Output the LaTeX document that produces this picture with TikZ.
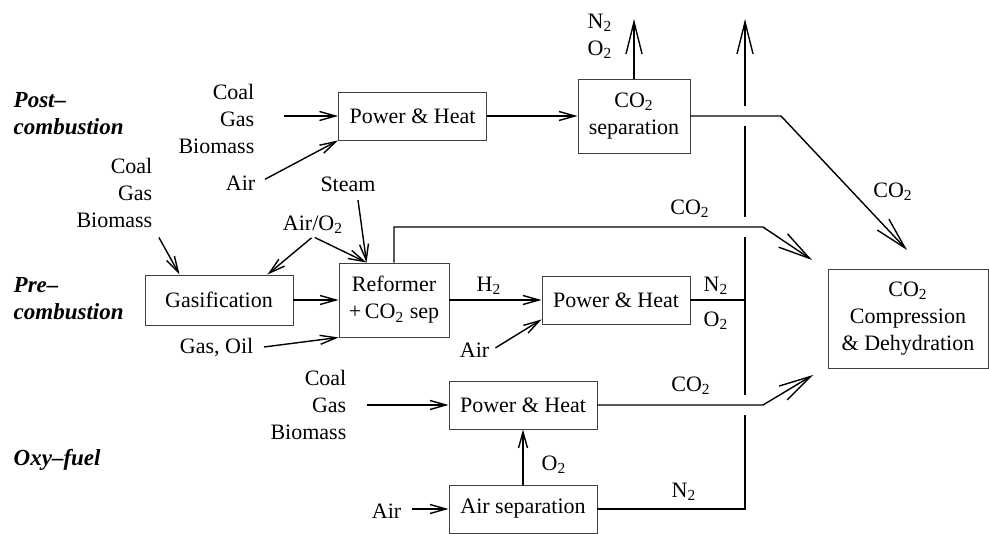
\documentclass[tikz,border=0pt]{standalone}
\usepackage{fontspec}
\setmainfont{Liberation Serif}
\usetikzlibrary{arrows.meta,calc}

\begin{document}
\begin{tikzpicture}[x=0.5pt,y=-0.5pt,line width=0.7pt,
    font=\fontsize{11}{13.5}\selectfont,
    box/.style={draw=black!75,line width=0.45pt,minimum width=74pt,minimum height=24pt,inner sep=1pt,align=center},
    lbl/.style={inner sep=1pt},
    route/.style={font=\fontsize{11.5}{13.5}\selectfont\bfseries\itshape,align=left,anchor=west,inner sep=1pt},
    >={Straight Barb[length=8pt,width=4.5pt]},
    big/.style={-{Straight Barb[length=16pt,width=8pt]}}]
\useasboundingbox (0,0) rectangle (989,534);
% boxes
\node[box] (ph1) at (412.5,116) {Power \& Heat};
\node[box,minimum width=56pt,minimum height=37pt] (sep) at (634,116) {CO\textsubscript{2}\\separation};
\node[box,minimum height=25pt] (gas) at (219,300) {Gasification};
\node[box,minimum width=55pt,minimum height=37pt] (ref) at (394,300) {Reformer\\+\,CO\textsubscript{2} sep};
\node[box] (ph2) at (616,300) {Power \& Heat};
\node[box,minimum width=80pt,minimum height=49.5pt] (comp) at (908,318.5) {CO\textsubscript{2}\\Compression\\\& Dehydration};
\node[box] (ph3) at (523,405) {Power \& Heat};
\node[box] (asep) at (523,509) {Air separation};
% route names
\node[route] (post) at (11,114) {Post--\\combustion};
\node[route] (pre) at (11,299) {Pre--\\combustion};
\node[route] (oxy) at (11,460) {Oxy--fuel};
% inputs
\node[lbl,align=right,anchor=east] (fuel1) at (257,119) {Coal\\Gas\\Biomass};
\node[lbl,anchor=east] (air1) at (258,183) {Air};
\node[lbl,align=right,anchor=east] (fuel2) at (155,193) {Coal\\Gas\\Biomass};
\node[lbl] (steam) at (348,184) {Steam};
\node[lbl] (airo2) at (313,225) {Air/O\textsubscript{2}};
\node[lbl,anchor=east] (gasoil) at (256,348) {Gas, Oil};
\node[lbl,anchor=east] (air2) at (492,350) {Air};
\node[lbl,align=right,anchor=east] (fuel3) at (349,405) {Coal\\Gas\\Biomass};
\node[lbl,anchor=east] (air3) at (404,511) {Air};
% stream labels
\node[lbl,align=left] (n2o2a) at (600,36) {N\textsubscript{2}\\O\textsubscript{2}};
\node[lbl] (co2a) at (893,192) {CO\textsubscript{2}};
\node[lbl] (co2b) at (690,209) {CO\textsubscript{2}};
\node[lbl] (h2) at (489,286) {H\textsubscript{2}};
\node[lbl] (n2b) at (716,286) {N\textsubscript{2}};
\node[lbl] (o2b) at (716,321) {O\textsubscript{2}};
\node[lbl] (co2c) at (691,386) {CO\textsubscript{2}};
\node[lbl] (o2c) at (554,465) {O\textsubscript{2}};
\node[lbl] (n2c) at (684,492) {N\textsubscript{2}};
% free ends
\coordinate (ventA) at (634,19);
\coordinate (vent) at (745,19);
\coordinate (foot) at (745,509);
\coordinate (kneeA) at (781,116);
\coordinate (tipA) at (907,250);
\coordinate (kneeB) at (763,227);
\coordinate (tipB) at (812,260);
\coordinate (kneeC) at (763,405);
\coordinate (tipC) at (813,375);
% post-combustion
\draw[->,shorten <=13.5pt] (fuel1.east |- ph1.west) -- (ph1.west);
\draw[->,shorten <=4pt] (air1.east) -- (ph1.south west);
\draw[->] (ph1.east) -- (sep.west);
\draw[big] (sep.north) -- (ventA);
\draw[big] (sep.east) -- (kneeA) -- (tipA);
% pre-combustion
\draw[->,shorten <=4pt] (fuel2.south east) -- ($(gas.north west)+(35,0)$);
\draw[->,shorten <=1pt] (airo2.south) -- ($(gas.north east)+(-26,0)$);
\draw[->,shorten <=1pt] (airo2.south) -- ($(ref.north west)+(28,0)$);
\draw[->] ($(steam.south)+(10,6)$) -- ($(ref.north west)+(28,0)$);
\draw[->] (gas.east) -- (ref.west);
\draw[->,shorten <=4pt] (gasoil.east) -- (ref.south west);
\draw[big] (ref.north) |- (kneeB) -- (tipB);
\draw[->] (ref.east) -- (ph2.west);
\draw[->,shorten <=2pt] (air2.east) -- ($(ph2.south west)+(0,-5)$);
\draw (ph2.east) -- (ph2.east -| foot);
% oxy-fuel
\draw[->,shorten <=9pt] (fuel3.east |- ph3.west) -- (ph3.west);
\draw[big] (ph3.east) -- (kneeC) -- (tipC);
\draw[->] (asep.north) -- (ph3.south);
\draw[->,shorten <=4pt] (air3.east |- asep.west) -- (asep.west);
% vent line, broken where the CO2 lines cross
\draw (asep.east) -- (foot) -- (745,415);
\draw (745,395) -- (745,237);
\draw (745,217) -- (745,126);
\draw[big] (745,106) -- (vent);
\end{tikzpicture}
\end{document}
